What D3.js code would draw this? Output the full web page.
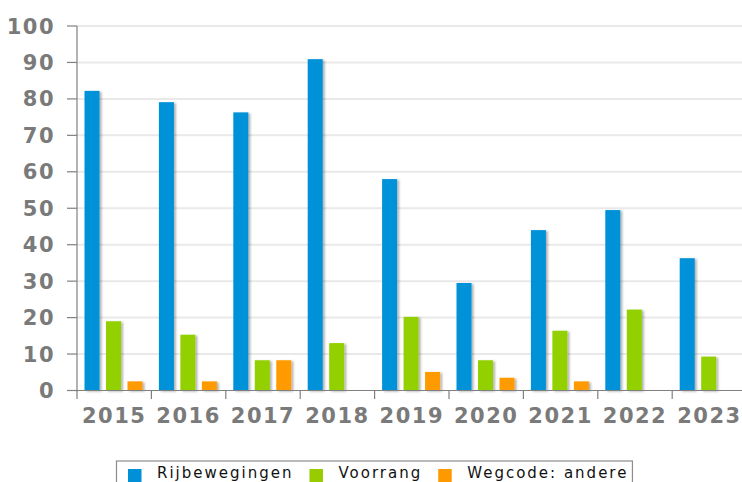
<!DOCTYPE html>
<html>
<head>
<meta charset="utf-8">
<script src="https://cdn.jsdelivr.net/npm/d3@7"></script>
<style>
  body { margin: 0; background: #fff; }
  svg { display: block; font-family: "DejaVu Sans", sans-serif; }
</style>
</head>
<body>
<div id="chart"></div>
<script>
// data
var years = ["2015", "2016", "2017", "2018", "2019", "2020", "2021", "2022", "2023"];
var seriesNames = ["Rijbewegingen", "Voorrang", "Wegcode: andere"];
var rijbewegingen = [82.2, 79.1, 76.3, 90.9, 58.0, 29.5, 44.0, 49.5, 36.3];
var voorrang = [19.0, 15.3, 8.3, 13.0, 20.2, 8.3, 16.4, 22.2, 9.3];
var wegcodeAndere = [2.5, 2.5, 8.3, 0, 5.1, 3.5, 2.5, 0, 0];
var yTicks = [0, 10, 20, 30, 40, 50, 60, 70, 80, 90, 100];

var values = [rijbewegingen, voorrang, wegcodeAndere];
// [dark edge, light centre] for each series
var colours = [["#0092d8", "#00aaf5"], ["#93d000", "#b2f200"], ["#ff9a00", "#ffad00"]];
var legendColours = ["#0090d8", "#99cc00", "#ff9900"];

var width = 742, height = 482;
var x0 = 77, plotTop = 26, plotBottom = 390.5;

var svg = d3.select("#chart").append("svg")
    .attr("width", width).attr("height", height);

var defs = svg.append("defs");
colours.forEach(function(c, i) {
  var g = defs.append("linearGradient")
      .attr("id", "grad" + i)
      .attr("gradientUnits", "userSpaceOnUse")
      .attr("x1", x0).attr("x2", width).attr("y1", 0).attr("y2", 0);
  g.append("stop").attr("offset", 0).attr("stop-color", c[0]);
  g.append("stop").attr("offset", 0.45).attr("stop-color", c[1]);
  g.append("stop").attr("offset", 1).attr("stop-color", c[0]);
});
var shadow = defs.append("filter").attr("id", "shadow")
    .attr("x", "-50%").attr("y", "-10%").attr("width", "200%").attr("height", "130%");
shadow.append("feDropShadow")
    .attr("dx", 2).attr("dy", 1).attr("stdDeviation", 0.8)
    .attr("flood-color", "#000").attr("flood-opacity", 0.3);

var x = d3.scaleBand().domain(years).range([x0, x0 + 74.4 * years.length]);
var xInner = d3.scaleBand().domain(d3.range(seriesNames.length))
    .range([7.5, 65.5]).paddingInner(0.3);
var y = d3.scaleLinear().domain([0, 100]).range([plotBottom, plotTop]);

// gridlines
svg.append("g").selectAll("line")
    .data(yTicks.slice(1))
  .enter().append("line")
    .attr("x1", x0).attr("x2", width)
    .attr("y1", function(d) { return y(d); })
    .attr("y2", function(d) { return y(d); })
    .attr("stroke", "#e9e9e9").attr("stroke-width", 2);

// bars
var groups = svg.append("g").selectAll("g")
    .data(years)
  .enter().append("g")
    .attr("transform", function(d) { return "translate(" + x(d) + ",0)"; });

groups.selectAll("rect")
    .data(function(d, i) {
      return values.map(function(v, s) { return {s: s, v: v[i]}; }).filter(function(d) { return d.v > 0; });
    })
  .enter().append("rect")
    .attr("x", function(d) { return xInner(d.s); })
    .attr("width", xInner.bandwidth())
    .attr("y", function(d) { return y(d.v); })
    .attr("height", function(d) { return y(0) - y(d.v); })
    .attr("fill", function(d) { return "url(#grad" + d.s + ")"; })
    .attr("filter", "url(#shadow)");

// y axis
var yAxis = svg.append("g");
yAxis.append("line")
    .attr("x1", x0).attr("x2", x0)
    .attr("y1", plotTop).attr("y2", plotBottom + 1)
    .attr("stroke", "#808080").attr("stroke-width", 1.2);
yAxis.selectAll("line.tick")
    .data(yTicks)
  .enter().append("line")
    .attr("class", "tick")
    .attr("x1", 67).attr("x2", x0)
    .attr("y1", function(d) { return y(d); })
    .attr("y2", function(d) { return y(d); })
    .attr("stroke", "#808080").attr("stroke-width", 1.2);
yAxis.selectAll("text")
    .data(yTicks)
  .enter().append("text")
    .attr("x", 55)
    .attr("y", function(d) { return y(d); })
    .attr("dy", "0.36em")
    .attr("text-anchor", "end")
    .attr("font-size", 21).attr("font-weight", "bold")
    .attr("letter-spacing", 1.5)
    .attr("fill", "#7a7a7a")
    .text(function(d) { return d; });

// x axis
var xAxis = svg.append("g");
xAxis.append("line")
    .attr("x1", 67).attr("x2", width)
    .attr("y1", plotBottom).attr("y2", plotBottom)
    .attr("stroke", "#808080").attr("stroke-width", 1.2);
xAxis.selectAll("line.tick")
    .data(years)
  .enter().append("line")
    .attr("class", "tick")
    .attr("x1", function(d) { return x(d); })
    .attr("x2", function(d) { return x(d); })
    .attr("y1", plotBottom).attr("y2", plotBottom + 8.5)
    .attr("stroke", "#808080").attr("stroke-width", 1.2);
xAxis.selectAll("text")
    .data(years)
  .enter().append("text")
    .attr("x", function(d) { return x(d) + x.bandwidth() / 2; })
    .attr("y", 423)
    .attr("text-anchor", "middle")
    .attr("font-size", 21).attr("font-weight", "bold")
    .attr("letter-spacing", 1.5)
    .attr("fill", "#7a7a7a")
    .text(function(d) { return d; });

// legend (cut off by the bottom edge, as in the picture)
var legend = svg.append("g");
var box = legend.append("rect")
    .attr("y", 461).attr("height", 40)
    .attr("fill", "#fff").attr("stroke", "#8c8c8c").attr("stroke-width", 1.2);
var lx = 128;
seriesNames.forEach(function(name, i) {
  legend.append("rect")
      .attr("x", lx).attr("y", 469)
      .attr("width", 13.5).attr("height", 20)
      .attr("fill", legendColours[i]);
  var t = legend.append("text")
      .attr("x", lx + 29).attr("y", 477.8)
      .attr("font-size", 15)
      .attr("letter-spacing", 2)
      .attr("fill", "#111")
      .text(name);
  lx += 29 + t.node().getComputedTextLength() + 16;
});
box.attr("x", 116.5).attr("width", lx - 16 + 4 - 116.5);
</script>
</body>
</html>
